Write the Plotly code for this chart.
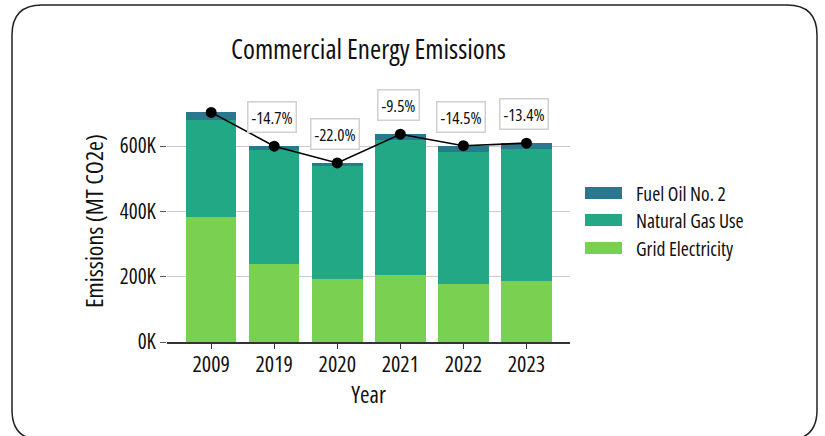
import plotly.graph_objects as go

# Commercial energy emissions by source (MT CO2e)
years = ["2009", "2019", "2020", "2021", "2022", "2023"]
grid_electricity = [383000, 238000, 193000, 204000, 179000, 187000]
natural_gas = [298000, 350000, 347000, 415000, 404000, 404000]
fuel_oil = [22000, 11700, 8400, 17200, 18100, 17800]

series_names = ["Grid Electricity", "Natural Gas Use", "Fuel Oil No. 2"]
series_colors = ["#7ad151", "#22a884", "#2a788e"]

y_tick_values = [0, 200000, 400000, 600000]
y_tick_labels = ["0K", "200K", "400K", "600K"]

totals = [g + n + f for g, n, f in zip(grid_electricity, natural_gas, fuel_oil)]
baseline = totals[0]
pct_labels = [f"{(t / baseline - 1) * 100:.1f}%" for t in totals]

FONT = "Open Sans"
INK = "#111"
W, H = 825, 436
ML, MR, MT, MB = 167, 255, 100, 94
PW, PH = W - ML - MR, H - MT - MB


def px_x(px):
    return (px - ML) / PW


def px_y(py):
    return (H - MB - py) / PH


def font(size, weight=500):
    return dict(family=FONT, size=size, color=INK, weight=weight)


def narrow(s):
    # condensed face of the variable font
    return f'<span style="font-stretch:75%">{s}</span>'


fig = go.Figure()
for name, vals, color in zip(series_names, [grid_electricity, natural_gas, fuel_oil], series_colors):
    fig.add_trace(go.Bar(x=years, y=vals, name=name, marker=dict(color=color, line=dict(width=0)),
                         showlegend=False))

fig.add_trace(go.Scatter(x=years, y=totals, mode="lines+markers", showlegend=False,
                         line=dict(color="black", width=1.6),
                         marker=dict(color="black", size=11)))

# percent-change labels relative to 2009
for i, (tot, lab) in enumerate(zip(totals, pct_labels)):
    if i == 0:
        continue
    fig.add_annotation(x=i, y=tot, text=narrow(lab), showarrow=False, xshift=-2, yshift=29,
                       font=font(17),
                       bgcolor="white", bordercolor="#d0d0d0", borderwidth=1.5, borderpad=3)

# hand-drawn legend (wide swatches)
legend_rows = [("Fuel Oil No. 2", "#2a788e", 193), ("Natural Gas Use", "#22a884", 220),
               ("Grid Electricity", "#7ad151", 248)]
for label, color, cy in legend_rows:
    fig.add_shape(type="rect", xref="paper", yref="paper",
                  x0=px_x(585), x1=px_x(622), y0=px_y(cy + 6), y1=px_y(cy - 6),
                  fillcolor=color, line=dict(width=0))
    fig.add_annotation(xref="paper", yref="paper", x=px_x(634), y=px_y(cy), text=narrow(label),
                       showarrow=False, xanchor="left", yanchor="middle", font=font(19.5))

# rounded card outline
L, R, T, B, rad = 12, 817, 5, 440, 30
pts = [
    f"M {px_x(L + rad)},{px_y(T)}",
    f"L {px_x(R - rad)},{px_y(T)}",
    f"Q {px_x(R)},{px_y(T)} {px_x(R)},{px_y(T + rad)}",
    f"L {px_x(R)},{px_y(B - rad)}",
    f"Q {px_x(R)},{px_y(B)} {px_x(R - rad)},{px_y(B)}",
    f"L {px_x(L + rad)},{px_y(B)}",
    f"Q {px_x(L)},{px_y(B)} {px_x(L)},{px_y(B - rad)}",
    f"L {px_x(L)},{px_y(T + rad)}",
    f"Q {px_x(L)},{px_y(T)} {px_x(L + rad)},{px_y(T)} Z",
]
fig.add_shape(type="path", xref="paper", yref="paper", path=" ".join(pts),
              line=dict(color="#222", width=1.5), layer="below")

fig.update_layout(
    width=W, height=H,
    margin=dict(l=ML, r=MR, t=MT, b=MB, pad=0),
    paper_bgcolor="white", plot_bgcolor="white",
    barmode="stack", bargap=0.2,
    font=dict(family=FONT, color=INK),
    title=dict(text=narrow("Commercial Energy Emissions"), x=(ML + PW / 2) / W, xanchor="center",
               y=1 - 50 / H, yanchor="middle", font=font(27)),
    xaxis=dict(type="category", range=[-0.7, 5.69], showgrid=False, showline=True,
               linecolor="#333", linewidth=1.5,
               tickmode="array", tickvals=years, ticktext=[narrow(y) for y in years],
               ticks="outside", ticklen=5, tickcolor="#333", tickwidth=1.2,
               ticklabelstandoff=-3,
               tickfont=font(22),
               title=dict(text=narrow("Year"), font=font(23), standoff=0)),
    yaxis=dict(range=[0, 741000], tickmode="array", tickvals=y_tick_values,
               ticktext=[narrow(t) for t in y_tick_labels],
               showgrid=True, gridcolor="#cccccc", gridwidth=1, zeroline=False, showline=False,
               ticks="outside", ticklen=6, tickcolor="#555", tickwidth=1.2,
               tickfont=font(21),
               title=dict(text=narrow("Emissions (MT CO2e)"), font=font(24), standoff=9)),
)

fig.write_html("out.html")
